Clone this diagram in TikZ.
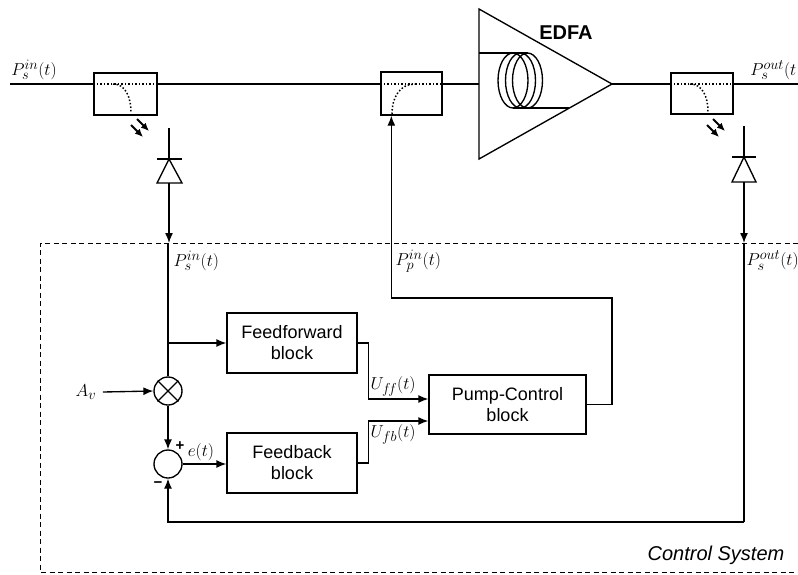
\documentclass[tikz,border=0pt]{standalone}
\usepackage{fontspec}
\setsansfont{Liberation Sans}
\usetikzlibrary{arrows.meta}
\begin{document}
\begin{tikzpicture}[x=1pt,y=-1pt, line width=1.35pt,
  arr/.style={-{Latex[length=10pt,width=8pt]}},
  smallarr/.style={-{Latex[length=8pt,width=7pt]}, line width=2pt},
  blk/.style={draw, minimum width=130pt, minimum height=60pt, inner sep=0pt, align=center,
    font=\sffamily\fontsize{18}{21}\selectfont},
  cpl/.style={draw, inner sep=0pt},
  lbl/.style={inner sep=0pt, font=\fontsize{19}{22}\selectfont},
  sgn/.style={inner sep=0pt, font=\sffamily\bfseries\fontsize{15}{16}\selectfont},
  dots/.style={dotted, line width=1.5pt},
  ctrl/.style={dash pattern=on 5pt off 3.5pt, line width=1pt},
  circ/.style={draw, circle, minimum size=28pt, inner sep=0pt}
  ]
\useasboundingbox (0,0) rectangle (798,574);
\clip (0,0) rectangle (798,574);

% ---------- optical path ----------
\coordinate (inL) at (10,84);
\coordinate (outR) at (798,84);
\node[cpl, minimum width=63pt, minimum height=42pt] (cplL) at (125.5,94) {};
\node[cpl, minimum width=61pt, minimum height=43pt] (cplM) at (411.5,93.5) {};
\node[cpl, minimum width=62pt, minimum height=41pt] (cplR) at (702,93.5) {};
\coordinate (edfaIn) at (479,84);
\coordinate (edfaOut) at (612,84);

\draw (inL) -- (cplL.west |- inL);
\draw[dots] (cplL.west |- inL) -- (cplL.east |- inL);
\draw (cplL.east |- inL) -- (cplM.west |- inL);
\draw[dots] (cplM.west |- inL) -- (cplM.east |- inL);
\draw (cplM.east |- inL) -- (edfaIn);
\draw (edfaOut) -- (cplR.west |- inL);
\draw[dots] (cplR.west |- inL) -- (cplR.east |- inL);
\draw (cplR.east |- inL) -- (outR);

% coupler taps
\draw[dots] (113,84) .. controls (125,84) and (131,96) .. (131,113);
\draw[dots] (690,84) .. controls (702,84) and (708,96) .. (708,112);
\draw[dots] (392,114) .. controls (392,97) and (400,84) .. (415,84);

% EDFA
\draw (479,9) -- (479,159) -- (612,84) -- cycle;
\draw[line width=2pt] (479,53) -- (527.5,53);
\draw[line width=2pt] (513,108) -- (569,108);
\foreach \cx in {513,520.5,527.5} \draw (\cx,80.5) ellipse [x radius=15, y radius=27.5];
\node[inner sep=0pt, font=\sffamily\bfseries\fontsize{20}{22}\selectfont] (edfa) at (566,33) {EDFA};

% emitted light
\draw[smallarr] (131,125) -- (143,137);
\draw[smallarr] (137,119) -- (149,131);
\draw[smallarr] (707,125) -- (719,137);
\draw[smallarr] (713,119) -- (725,131);

% photodiodes
\coordinate (pdLt) at (169,128);
\coordinate (pdLb) at (169,159);
\coordinate (pdLo) at (169,183);
\coordinate (inTap) at (169,243);
\draw (pdLt) -- (pdLb);
\draw[line width=1.8pt] (157,159) -- (182,159);
\draw (pdLb) -- (157,183) -- (182,183) -- cycle;
\draw[arr] (pdLo) -- (inTap);

\coordinate (pdRt) at (744,126);
\coordinate (pdRb) at (744,157);
\coordinate (pdRo) at (744,182);
\coordinate (outTap) at (744,243);
\draw (pdRt) -- (pdRb);
\draw[line width=1.8pt] (732,157) -- (756,157);
\draw (pdRb) -- (732,182) -- (756,182) -- cycle;
\draw[arr] (pdRo) -- (outTap);

% ---------- control system ----------
\draw[ctrl] (798,243) -- (40,243) -- (40,572) -- (798,572);
\node[inner sep=0pt, font=\sffamily\itshape\fontsize{20}{22}\selectfont] (cs) at (716,555) {Control System};

\node[blk] (ff) at (292,343) {Feedforward\\block};
\node[blk] (fb) at (292,463) {Feedback\\block};
\node[blk, minimum width=157pt, minimum height=59pt] (pump) at (507.5,404.5) {Pump-Control\\block};

\node[circ] (mult) at (168,391) {};
\draw (mult.north east) -- (mult.south west);
\draw (mult.north west) -- (mult.south east);
\node[circ] (sum) at (168,464) {};

\coordinate (br) at (168,343);
\draw (inTap -| mult.north) -- (mult.north);
\draw[arr] (br) -- (ff.west);

\node[lbl] (av) at (86,392) {$A_v$};
\draw[arr] ([xshift=6pt]av.east) -- (mult.west);
\draw[arr] (mult.south) -- (sum.north);
\node[sgn] (plus) at (180,446) {+};
\node[sgn] (minus) at (158,485) {\textminus};
\draw[arr] (sum.east) -- (fb.west |- sum.east);
\node[lbl] (e) at (201,452) {$e(t)$};

\draw[arr] (ff.east) -- ++(11,0) |- ([yshift=5.5pt]pump.west);
\draw[arr] (fb.east) -- ++(11,0) |- ([yshift=-16.5pt]pump.west);
\node[lbl, anchor=south west] (uff) at (370,397) {$U_{f\!f}(t)$};
\node[lbl, anchor=north west] (ufb) at (370,424) {$U_{fb}(t)$};

\coordinate (pumpIn) at ([xshift=11pt]cplM.south west);
\draw[arr] (pump.east) -| (612,298) -| (pumpIn);

\coordinate (fbCorner) at (744,522);
\draw (outTap) -- (fbCorner);
\draw[arr] (fbCorner) -| (sum.south);

% labels
\node[lbl] (lin) at (34,70) {$P_s^{in}(t)$};
\node[lbl, anchor=east] (lout) at (797,70) {$P_s^{out}(t$};
\node[lbl, anchor=north west] (tin) at (173,250) {$P_s^{in}(t)$};
\node[lbl, anchor=north west] (tpump) at (395,249) {$P_p^{in}(t)$};
\node[lbl, anchor=north west] (tout) at (746,250) {$P_s^{out}(t)$};
\end{tikzpicture}
\end{document}
